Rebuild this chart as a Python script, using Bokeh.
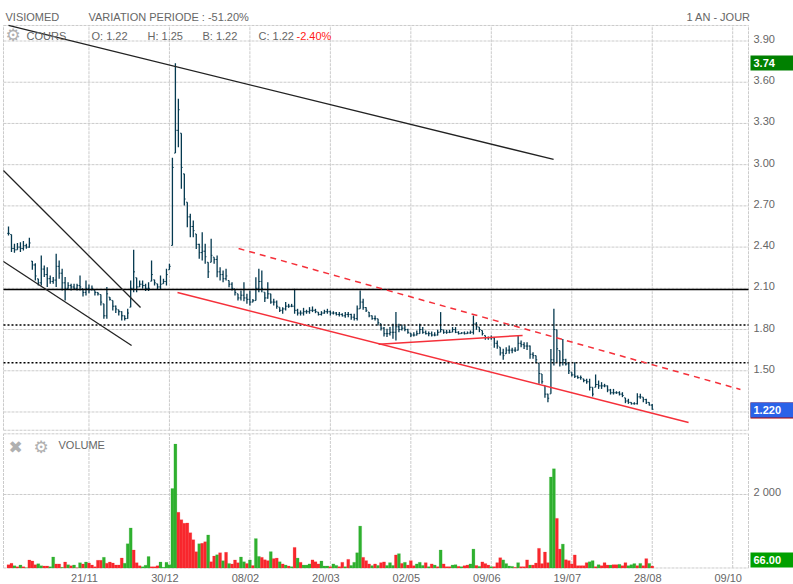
from bokeh.plotting import figure
from bokeh.layouts import column
from bokeh.models import Range1d, Label, BoxAnnotation
from bokeh.core.properties import value
from bokeh.embed import file_html
from bokeh.resources import INLINE

high = [2.550,2.492,2.424,2.429,2.436,2.444,2.424,2.468,2.298,2.283,2.169,2.339,2.266,2.254,2.194,2.182,2.351,2.303,2.242,2.182,
2.145,2.133,2.133,2.133,2.194,2.097,2.157,2.128,2.121,2.085,2.072,2.055,1.987,2.109,2.036,2.012,1.975,1.944,1.934,1.903,
1.951,2.157,2.381,2.177,2.157,2.157,2.133,2.145,2.303,2.162,2.133,2.194,2.169,2.242,2.279,3.050,3.739,3.479,3.229,2.933,
2.727,2.642,2.593,2.496,2.424,2.509,2.424,2.290,2.460,2.327,2.339,2.254,2.230,2.242,2.157,2.145,2.096,2.060,2.084,2.145,
2.060,2.084,2.023,2.181,2.242,2.230,2.072,2.145,2.060,2.024,2.012,1.963,1.963,2.000,1.987,1.987,2.097,1.951,1.939,1.958,
1.944,1.963,1.968,1.951,1.927,1.934,1.944,1.951,1.939,1.934,1.927,1.927,1.919,1.927,1.927,1.915,1.915,1.975,2.084,2.024,
1.963,1.927,1.902,1.902,1.878,1.842,1.818,1.805,1.818,1.842,1.927,1.842,1.837,1.830,1.805,1.774,1.781,1.793,1.842,1.818,
1.793,1.786,1.786,1.781,1.798,1.927,1.798,1.798,1.798,1.818,1.818,1.788,1.781,1.786,1.786,1.793,1.902,1.854,1.818,1.793,
1.757,1.750,1.757,1.745,1.721,1.672,1.660,1.672,1.684,1.667,1.672,1.757,1.720,1.708,1.708,1.684,1.635,1.611,1.555,1.477,
1.393,1.332,1.659,1.951,1.798,1.647,1.732,1.587,1.562,1.490,1.562,1.465,1.465,1.441,1.441,1.441,1.380,1.473,1.429,1.417,
1.405,1.393,1.368,1.368,1.351,1.351,1.344,1.303,1.296,1.271,1.271,1.337,1.332,1.308,1.296,1.271,1.259]
low = [2.485,2.364,2.359,2.380,2.364,2.376,2.388,2.395,2.235,2.157,2.121,2.121,2.182,2.109,2.133,2.133,2.109,2.169,2.085,2.012,
2.097,2.085,2.089,2.085,2.085,2.041,2.048,2.065,2.085,2.048,2.048,1.975,1.878,1.878,2.012,1.939,1.920,1.903,1.866,1.866,
1.878,1.963,2.072,2.072,2.109,2.097,2.080,2.080,2.152,2.121,2.092,2.092,2.133,2.121,2.235,2.412,3.084,3.127,2.824,2.703,
2.545,2.472,2.472,2.387,2.315,2.302,2.278,2.176,2.290,2.278,2.181,2.157,2.145,2.157,2.108,2.084,2.048,2.011,2.011,2.006,
1.987,1.975,1.999,2.011,2.072,2.072,2.000,2.024,1.987,1.975,1.951,1.927,1.915,1.939,1.958,1.963,1.915,1.902,1.902,1.902,
1.915,1.915,1.927,1.919,1.902,1.902,1.915,1.915,1.902,1.910,1.902,1.895,1.895,1.886,1.890,1.871,1.866,1.866,1.951,1.944,
1.927,1.890,1.871,1.866,1.830,1.793,1.750,1.745,1.757,1.733,1.721,1.781,1.793,1.788,1.769,1.745,1.750,1.757,1.769,1.769,
1.764,1.752,1.750,1.752,1.757,1.781,1.769,1.769,1.774,1.781,1.774,1.764,1.769,1.764,1.769,1.769,1.764,1.798,1.781,1.757,
1.725,1.725,1.725,1.667,1.660,1.611,1.580,1.624,1.624,1.628,1.636,1.648,1.672,1.659,1.652,1.587,1.587,1.555,1.405,1.405,
1.303,1.271,1.332,1.538,1.562,1.531,1.538,1.538,1.477,1.458,1.448,1.441,1.434,1.417,1.405,1.356,1.313,1.380,1.368,1.368,
1.380,1.344,1.327,1.327,1.332,1.320,1.308,1.264,1.259,1.254,1.254,1.254,1.296,1.271,1.259,1.247,1.216]
close = [2.50,2.39,2.38,2.40,2.39,2.41,2.40,2.43,2.27,2.19,2.14,2.24,2.20,2.17,2.15,2.16,2.26,2.21,2.14,2.10,
2.12,2.11,2.10,2.12,2.11,2.07,2.10,2.09,2.10,2.07,2.06,2.00,1.90,2.06,2.02,1.97,1.95,1.93,1.90,1.88,
1.92,2.10,2.22,2.11,2.13,2.12,2.10,2.10,2.20,2.14,2.11,2.13,2.15,2.20,2.26,2.98,3.25,3.40,2.98,2.75,
2.62,2.55,2.52,2.42,2.36,2.37,2.33,2.22,2.34,2.31,2.22,2.20,2.17,2.19,2.13,2.10,2.07,2.03,2.05,2.03,
2.02,2.00,2.01,2.10,2.15,2.10,2.03,2.06,2.00,2.00,1.97,1.94,1.95,1.97,1.97,1.97,1.94,1.92,1.92,1.93,
1.93,1.94,1.94,1.93,1.91,1.92,1.93,1.93,1.92,1.92,1.91,1.91,1.90,1.91,1.91,1.89,1.88,1.95,2.00,1.96,
1.94,1.90,1.88,1.88,1.85,1.81,1.77,1.77,1.78,1.78,1.82,1.80,1.81,1.80,1.78,1.76,1.76,1.77,1.80,1.78,
1.77,1.77,1.76,1.76,1.78,1.80,1.78,1.78,1.78,1.80,1.78,1.77,1.775,1.77,1.775,1.78,1.84,1.82,1.80,1.77,
1.74,1.74,1.74,1.70,1.68,1.63,1.61,1.65,1.65,1.65,1.65,1.70,1.69,1.68,1.68,1.62,1.61,1.58,1.48,1.42,
1.33,1.30,1.58,1.80,1.66,1.56,1.58,1.55,1.50,1.47,1.46,1.45,1.45,1.43,1.42,1.38,1.33,1.40,1.39,1.39,
1.39,1.36,1.34,1.34,1.34,1.33,1.32,1.28,1.27,1.26,1.26,1.31,1.31,1.29,1.27,1.25,1.22]
volume = [90,127,63,36,82,36,10,218,190,90,118,63,55,55,36,300,110,110,20,163,
90,63,82,10,145,110,163,136,82,36,209,209,290,127,163,136,82,82,272,127,
660,1090,490,145,63,36,73,310,36,36,63,163,20,154,90,2160,3370,1515,1315,1215,
1225,960,770,445,660,670,715,900,170,325,360,415,200,425,125,110,220,145,300,170,
120,220,65,800,315,290,225,200,445,255,270,170,110,80,55,36,560,270,155,80,
80,110,220,170,110,190,55,55,36,110,70,36,155,36,235,70,155,415,1140,290,
200,110,65,110,70,145,165,70,145,70,355,390,125,155,80,200,63,110,155,70,
145,36,110,80,36,490,110,36,36,80,90,45,36,63,80,110,515,70,45,165,
120,80,36,36,145,280,220,120,55,45,20,145,36,36,220,80,80,135,535,120,
435,145,2475,2700,1350,515,650,225,200,110,355,63,63,63,145,170,200,36,90,63,
145,80,80,90,90,100,63,145,63,90,120,63,125,63,255,125,55]
vol_side = ("rrgrgrgrrr" "ggrrggrrgr" "grgrgrgrrr" "rrgrrrrrrg" "ggrrrgggrr" "rggggggrrr"
            "rrrrgrrgrr" "grgrgrrrgg" "rgrggrrrgr" "rgrgrgrgrg" "ggrrrgggrg" "grrgrggggr"
            "rrgrgrrggg" "rgrgrrrggg" "rgrgrgrrrg" "grgrrggrgr" "rrgrrrgggg" "rgrrrgrrrr"
            "rrggrrgrrr" "rrrrrggrgr" "rrgrrgrrgg" "grgrrgr")

price_ticks = [3.9, 3.6, 3.3, 3.0, 2.7, 2.4, 2.1, 1.8, 1.5, 1.2]
price_tick_labels = ["3.90", "3.60", "3.30", "3.00", "2.70", "2.40", "2.10", "1.80", "1.50"]
date_ticks = [27, 54, 81, 108, 135, 162, 189, 216, 243]
date_tick_labels = ["21/11", "30/12", "08/02", "20/03", "02/05", "09/06", "19/07", "28/08", "09/10"]
volume_ticks = [2000]
volume_tick_labels = ["2 000"]

# drawn trend lines: (index0, price0, index1, price1)
black_lines = [(0.0, 4.013, 182.9, 3.038), (-1.7, 2.957, 44.3, 1.961), (-1.7, 2.295, 41.3, 1.684)]
red_lines = [(56.7, 2.070, 228.2, 1.124), (124.2, 1.693, 172.5, 1.757)]
red_dashed_lines = [(77.2, 2.390, 245.6, 1.364)]
level_solid = [2.091]
level_dotted = [1.833, 1.558]

GREY = "#666666"
GRID = "#cbcbcb"
GRID_DASH = "3 1"
FONT = "Liberation Sans"
BAR = "#063a50"
x_view = (-2.685, 263.4)      # whole canvas width
x_pane = (-1.68, 248.3)       # chart panes
price_view = (1.0507, 4.1948)
price_pane = (1.067, 4.013)
volume_view = (-449, 3686)
volume_pane = (0, 3650)
xs = list(range(len(close)))
opens = [close[0]] + [max(min(c, h), l) for c, h, l in zip(close[:-1], high[1:], low[1:])]


def make_fig(h, yr):
    p = figure(width=793, height=h, output_backend="svg", toolbar_location=None,
               x_range=Range1d(*x_view), y_range=Range1d(*yr),
               min_border=0, min_border_left=0, min_border_right=0, min_border_top=0, min_border_bottom=0)
    p.axis.visible = False
    p.grid.visible = False
    p.outline_line_color = None
    p.background_fill_color = "white"
    p.border_fill_color = "white"
    return p


def frame_and_grid(p, yp, yticks):
    for t in date_ticks:
        p.segment(t, yp[0], t, yp[1], line_color=GRID, line_width=1, line_dash=GRID_DASH)
    for t in yticks:
        p.segment(x_pane[0], t, x_pane[1], t, line_color=GRID, line_width=1, line_dash=GRID_DASH)
    for x in x_pane:
        p.segment(x, yp[0], x, yp[1], line_color=GRID, line_width=1, line_dash=GRID_DASH)
    for y in yp:
        p.segment(x_pane[0], y, x_pane[1], y, line_color=GRID, line_width=1, line_dash=GRID_DASH)


def right_labels(p, ys, labels):
    p.text([x_pane[1]] * len(ys), ys, text=labels, x_offset=5, y_offset=-2,
           text_font=value(FONT), text_font_size="11px", text_color=GREY,
           text_baseline="middle", text_align="left")


def label(p, x, y, s, color=GREY, size="11px", bold=False, font=FONT):
    p.add_layout(Label(x=x, y=y, x_units="canvas", y_units="canvas", text=s, text_color=color,
                       text_font_size=size, text_font=font, text_baseline="middle",
                       text_font_style="bold" if bold else "normal"))


def tag(p, y0, y1, fill, s):
    p.add_layout(BoxAnnotation(left=750, right=793, top=y0, bottom=y1, left_units="canvas",
                               right_units="canvas", top_units="canvas", bottom_units="canvas",
                               fill_color=fill, fill_alpha=1, line_alpha=0))
    label(p, 753, (y0 + y1) / 2, s, color="white", bold=True)


# ---------- price pane ----------
pr = make_fig(432, price_view)
frame_and_grid(pr, price_pane, price_ticks)
right_labels(pr, price_ticks[:len(price_tick_labels)], price_tick_labels)

pr.segment(xs, low, xs, high, line_color=BAR, line_width=1.3)
pr.segment(xs, close, [x + 0.42 for x in xs], close, line_color=BAR, line_width=1)
pr.segment([x - 0.42 for x in xs], opens, xs, opens, line_color=BAR, line_width=1)

for v in level_solid:
    pr.segment(x_pane[0], v, x_pane[1], v, line_color="black", line_width=1.5)
for v in level_dotted:
    pr.segment(x_pane[0], v, x_pane[1], v, line_color="black", line_width=1.5, line_dash="2 2")
for a, b, c, d in black_lines:
    pr.segment(a, b, c, d, line_color="#222222", line_width=1.3)
for a, b, c, d in red_lines:
    pr.segment(a, b, c, d, line_color="#f5303a", line_width=1.5)
for a, b, c, d in red_dashed_lines:
    pr.segment(a, b, c, d, line_color="#f5303a", line_width=1.5, line_dash="6 5")

label(pr, 5, 16, "VISIOMED")
label(pr, 88, 16, "VARIATION PERIODE : -51.20%")
label(pr, 686, 16, "1 AN - JOUR")
label(pr, 5, 34, "\u2699", color="#b0b0b0", size="17px", font="DejaVu Sans")
label(pr, 26, 35, "COURS")
label(pr, 91, 35, "O: 1.22")
label(pr, 147, 35, "H: 1.25")
label(pr, 202, 35, "B: 1.22")
label(pr, 258, 35, "C: 1.22")
label(pr, 296, 35, "-2.40%", color="#ff1a1a")
tag(pr, 55, 70, "#008000", "3.74")
tag(pr, 402, 418, "#a80000", " ")
tag(pr, 402, 417, "#2a62e8", "1.220")

# ---------- volume pane ----------
vo = make_fig(152, volume_view)
frame_and_grid(vo, volume_pane, volume_ticks)
right_labels(vo, volume_ticks, volume_tick_labels)
vo.text(date_ticks, [0] * len(date_ticks), text=date_tick_labels, x_offset=-4.5, y_offset=10.5,
        text_font=value(FONT), text_font_size="11px", text_color=GREY,
        text_baseline="middle", text_align="center")

colors = ["#2fb02f" if s == "g" else "#f8272d" for s in vol_side]
vo.vbar(x=xs, top=volume, bottom=0, width=1.0, fill_color=colors, line_color=colors, line_width=0.2)

label(vo, 8, 14, "\u2716", color="#b0b0b0", size="17px", font="DejaVu Sans")
label(vo, 33, 14, "\u2699", color="#b0b0b0", size="17px", font="DejaVu Sans")
label(vo, 58, 12, "VOLUME")
tag(vo, 120, 135, "#00a000", "66.00")

page = column(pr, vo, spacing=0)
html = file_html(page, INLINE)
html = html.replace("<head>", "<head><style>html,body{margin:0!important;padding:0}</style>", 1)
open("out.html", "w").write(html)
